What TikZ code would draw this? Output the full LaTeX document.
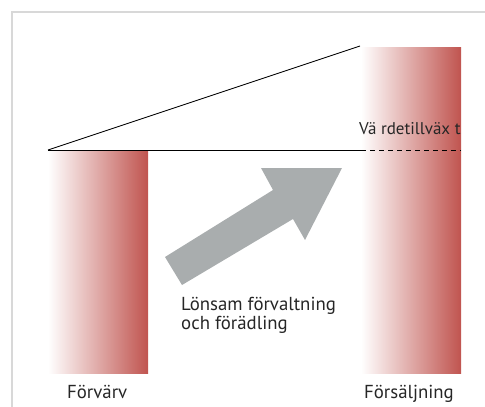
\documentclass[tikz,border=0pt]{standalone}
\usepackage{fontspec}
\setmainfont{PT Sans}
\definecolor{barred}{RGB}{192,84,79}
\definecolor{arrowgray}{RGB}{169,173,174}
\definecolor{framegray}{RGB}{216,216,216}
\tikzset{
  lbl/.style={anchor=base west, inner sep=0pt, font=\fontsize{18.8}{19}\selectfont, text=black!85},
  bar/.style={left color=white, right color=barred, draw=none},
  thinline/.style={line width=0.9pt, black}
}
\begin{document}
\begin{tikzpicture}[x=1pt,y=-1pt]
\useasboundingbox (0,0) rectangle (485,407);
% frame
\draw[framegray, line width=2.2pt] (12,407) -- (12,12) -- (485,12);
% bars
\shade[bar] (48,150) rectangle (148,373);
\shade[bar] (361,47) rectangle (461,373);
% lines
\coordinate (a) at (48,150);
\coordinate (b) at (360,46);
\coordinate (c) at (361,150);
\coordinate (d) at (461,150);
\draw[thinline] (a) -- (b);
\draw[thinline] (a) -- (c);
\draw[thinline, dash pattern=on 5pt off 4pt] (c) -- (d);
% arrow
\fill[arrowgray] (165,257) -- (273,190) -- (261,168) -- (342,168) -- (305,240) -- (293,219) -- (182,285) -- cycle;
% labels
\node[lbl, font=\fontsize{17}{19}\selectfont] (vt) at (359,134) {Vä rdetillväx t};
\node[lbl] (lf) at (181,310) {Lönsam förvaltning};
\node[lbl] (of) at (181,329) {och förädling};
\node[lbl] (fv) at (67,398) {Förvärv};
\node[lbl] (fs) at (364,398) {Försäljning};
\end{tikzpicture}
\end{document}
